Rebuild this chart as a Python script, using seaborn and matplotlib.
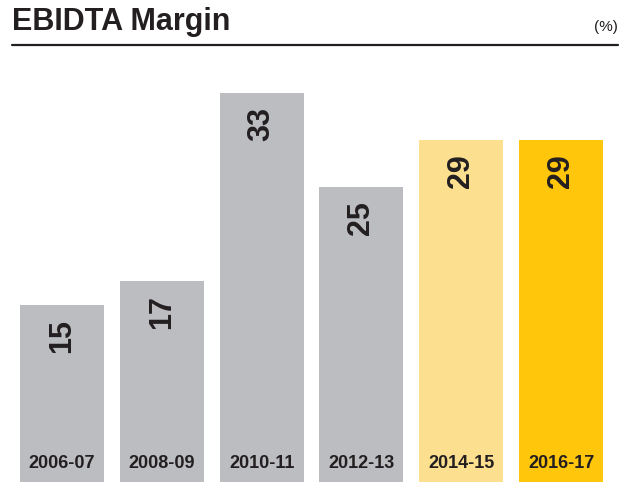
import matplotlib
matplotlib.use("Agg")
import matplotlib.pyplot as plt
import seaborn as sns
import pandas as pd

years = ['2006-07', '2008-09', '2010-11', '2012-13', '2014-15', '2016-17']
margin = [15, 17, 33, 25, 29, 29]
colors = ['#BCBDC1', '#BCBDC1', '#BCBDC1', '#BCBDC1', '#FDE08F', '#FFC60B']

sns.set_style('white')
plt.rcParams['font.family'] = ['Liberation Sans', 'DejaVu Sans']
ink = '#231F20'

df = pd.DataFrame({'year': years, 'margin': margin})

fig = plt.figure(figsize=(6.24, 4.86), dpi=100)
# y=0 sits at ~482px from top, 11.78 px per unit
ax = fig.add_axes([0, 4.3 / 486, 1, 420 / 486])
sns.barplot(data=df, x='year', y='margin', hue='year', palette=colors,
            width=0.84, legend=False, ax=ax, saturation=1, linewidth=0)
ax.set_xlim(-0.62, 5.63)
ax.set_ylim(0, 420 / 11.78)
ax.axis('off')

for i, v in enumerate(margin):
    ax.annotate(str(v), (i, v), xytext=(0, -10), textcoords='offset points',
                rotation=90, ha='center', va='top', fontsize=22,
                fontweight='bold', color=ink)
    ax.annotate(years[i], (i, 0), xytext=(0, 13), textcoords='offset points',
                ha='center', va='center', fontsize=13, fontweight='bold', color=ink)

fig.text(12 / 624, 1 - 22 / 486, 'EBIDTA Margin', fontsize=22, fontweight='bold',
         color=ink, va='center', ha='left')
fig.text(618 / 624, 1 - 27 / 486, '(%)', fontsize=11, color=ink, va='center', ha='right')
fig.add_artist(plt.Line2D([12 / 624, 618 / 624], [1 - 45 / 486, 1 - 45 / 486],
                          color=ink, linewidth=1.6))

fig.savefig('out.png', dpi=100)
